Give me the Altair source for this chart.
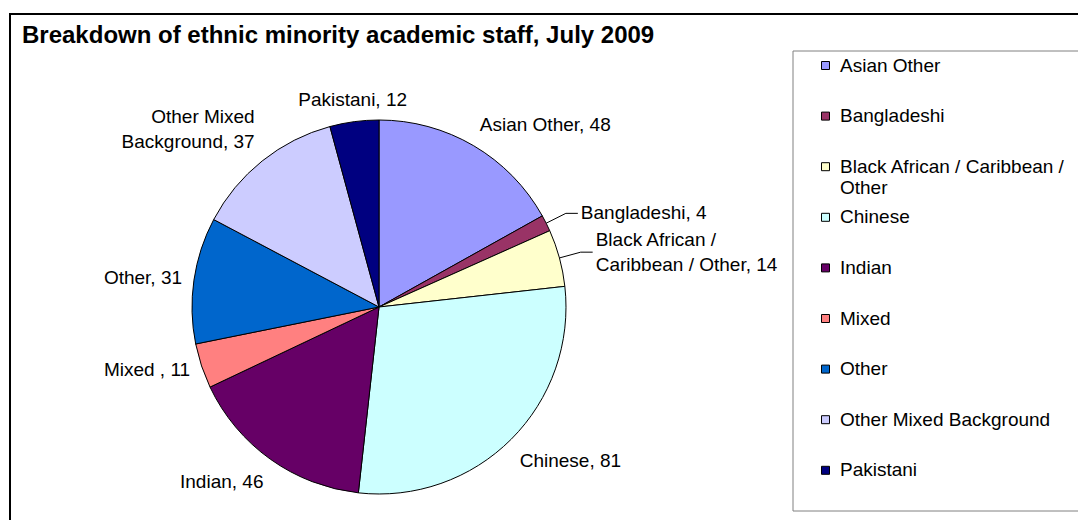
import altair as alt
import pandas as pd

TITLE = "Breakdown of ethnic minority academic staff, July 2009"
CATEGORIES = [
    "Asian Other",
    "Bangladeshi",
    "Black African / Caribbean / Other",
    "Chinese",
    "Indian",
    "Mixed",
    "Other",
    "Other Mixed Background",
    "Pakistani",
]
VALUES = [48, 4, 14, 81, 46, 11, 31, 37, 12]
LABELS = [
    "Asian Other, 48",
    "Bangladeshi, 4",
    "Black African /\nCaribbean / Other, 14",
    "Chinese, 81",
    "Indian, 46",
    "Mixed , 11",
    "Other, 31",
    "Other Mixed\nBackground, 37",
    "Pakistani, 12",
]
COLORS = ["#9999FF", "#993366", "#FFFFCC", "#CCFFFF", "#660066",
          "#FF8080", "#0066CC", "#CCCCFF", "#000080"]

FONT = "Liberation Sans"
W, H = 1070, 512
CX, CY = 371, 299
R = 187
LH = 25

df = pd.DataFrame({"category": CATEGORIES, "value": VALUES,
                   "label": LABELS, "idx": list(range(len(CATEGORIES)))})
one = pd.DataFrame({"k": [0]})

xs = alt.Scale(domain=[-CX, W - CX], nice=False, zero=False)
ys = alt.Scale(domain=[-CY, H - CY], nice=False, zero=False, reverse=True)

frame = alt.Chart(one).mark_rect(fillOpacity=0, stroke="black", strokeWidth=2).encode(
    x=alt.value(2), y=alt.value(6), x2=alt.value(1400), y2=alt.value(900))
legbox = alt.Chart(one).mark_rect(fillOpacity=0, stroke="#808080", strokeWidth=1).encode(
    x=alt.value(785), y=alt.value(43), x2=alt.value(1400), y2=alt.value(503))

pie = alt.Chart(df).mark_arc(outerRadius=R, stroke="black", strokeWidth=1).encode(
    theta=alt.Theta("value:Q", stack=True),
    order=alt.Order("idx:Q"),
    color=alt.Color(
        "category:N",
        scale=alt.Scale(domain=CATEGORIES, range=COLORS),
        legend=alt.Legend(
            title=None, orient="none", legendX=808, legendY=48, padding=0,
            symbolType="square", symbolSize=64, symbolStrokeColor="black",
            symbolStrokeWidth=1, labelFont=FONT, labelFontSize=19,
            labelColor="black", labelLimit=400, rowPadding=9.6, labelOffset=5,
            gridAlign="all",
            labelExpr="datum.label == 'Black African / Caribbean / Other' ? "
                      "['Black African / Caribbean /', 'Other'] : datum.label",
        ),
    ),
    x=alt.value(CX), y=alt.value(CY),
)

geo = (
    alt.Chart(df)
    .transform_joinaggregate(total="sum(value)")
    .transform_window(cum="sum(value)", sort=[alt.SortField("idx")])
    .transform_window(prev="lag(value)", nxt="lead(value)", sort=[alt.SortField("idx")])
    .transform_calculate(
        frac="datum.value / datum.total",
        ang="2 * PI * (datum.cum - datum.value / 2) / datum.total",
        nl="length(split(datum.label, '\\n'))",
    )
    .transform_calculate(
        s="sin(datum.ang)", c="cos(datum.ang)",
        pushed="datum.frac < 0.06 && ((isValid(datum.prev) && datum.prev / datum.total < 0.06)"
               " || (isValid(datum.nxt) && datum.nxt / datum.total < 0.06))",
    )
    .transform_calculate(
        sg="datum.s >= 0 ? 1 : -1",
        ex=f"{R} * datum.s", ey=f"-{R} * datum.c",
        bx=f"{R + 22} * datum.s", by=f"-{R + 22} * datum.c",
        al="datum.pushed ? (datum.s >= 0 ? 'left' : 'right') : "
           "(datum.s > 0.3 ? 'left' : (datum.s < -0.3 ? 'right' : 'center'))",
        bl="datum.pushed ? 'middle' : "
           "(datum.c > 0.35 ? 'bottom' : (datum.c < -0.35 ? 'top' : 'middle'))",
    )
    .transform_calculate(
        tx="datum.bx + 12 * datum.sg",
        lx=f"datum.pushed ? datum.bx + 15 * datum.sg : {R + 12} * datum.s",
        ly0=f"datum.pushed ? datum.by : -{R + 12} * datum.c",
        shift=f"datum.bl == 'bottom' ? (datum.nl - 1) * {LH} : "
              f"(datum.bl == 'middle' ? (datum.nl - 1) * {LH} / 2 : -4)",
    )
    .transform_calculate(ly="datum.ly0 - datum.shift")
)

lead1 = geo.transform_filter("datum.pushed").mark_rule(color="black", strokeWidth=1).encode(
    x=alt.X("ex:Q", scale=xs, axis=None), y=alt.Y("ey:Q", scale=ys, axis=None),
    x2="bx:Q", y2="by:Q")
lead2 = geo.transform_filter("datum.pushed").mark_rule(color="black", strokeWidth=1).encode(
    x=alt.X("bx:Q", scale=xs, axis=None), y=alt.Y("by:Q", scale=ys, axis=None),
    x2="tx:Q", y2="by:Q")

labels = geo.mark_text(
    font=FONT, fontSize=19, color="black", lineBreak="\n", lineHeight=LH,
    align=alt.ExprRef(expr="datum.al"), baseline=alt.ExprRef(expr="datum.bl"),
).encode(
    x=alt.X("lx:Q", scale=xs, axis=None),
    y=alt.Y("ly:Q", scale=ys, axis=None),
    text="label:N",
)

chart = (
    alt.layer(frame, legbox, pie, lead1, lead2, labels)
    .properties(
        width=W, height=H, padding=0,
        autosize=alt.AutoSizeParams(type="none"),
        background="white",
        title=alt.Title(TITLE, anchor="start", frame="group", orient="top",
                        offset=0, dx=14, dy=52, baseline="middle",
                        font=FONT, fontSize=24, fontWeight="bold", color="black"),
    )
    .configure_view(stroke=None)
)

chart.save("out.html", embed_options={"renderer": "svg", "actions": False})
